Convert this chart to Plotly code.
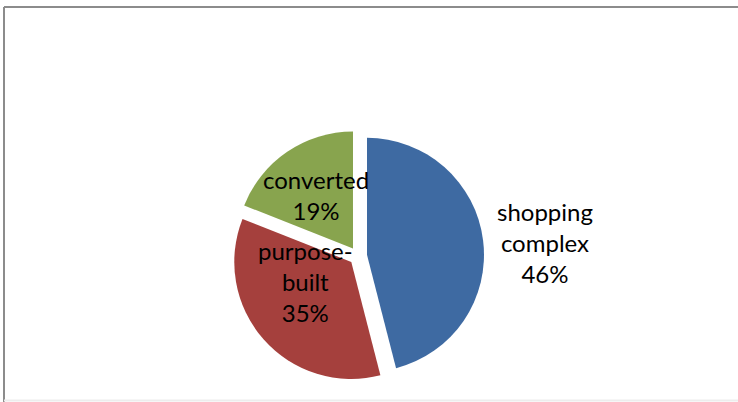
import plotly.graph_objects as go

# Share of venues by building type
categories = ["shopping complex", "purpose-built", "converted"]
label_lines = ["shopping<br>complex", "purpose-<br>built", "converted"]
values = [46, 35, 19]
colors = ["#3E6AA2", "#A5403D", "#88A44E"]

W, H = 738, 402
total = sum(values)
pcts = [round(100 * v / total) for v in values]

fig = go.Figure(
    go.Pie(
        labels=categories,
        values=values,
        sort=False,
        direction="clockwise",
        rotation=0,
        pull=[0.077, 0.077, 0.077],
        marker=dict(colors=colors, line=dict(width=0)),
        textinfo="none",
        hoverinfo="label+percent",
        showlegend=False,
        domain=dict(x=[0.3144, 0.6559], y=[0.0497, 0.6767]),
    )
)

# Data labels (centre positions in pixels from the top-left corner)
label_pos = [(545, 242), (305, 281), (316, 195)]
for text, pct, (px, py) in zip(label_lines, pcts, label_pos):
    fig.add_annotation(
        x=px / W, y=1 - py / H, xref="paper", yref="paper",
        text=f"{text}<br>{pct}%", showarrow=False,
        font=dict(family="Lato", size=24, color="#000000"),
        align="center", xanchor="center", yanchor="middle",
    )

# Chart frame
frame = dict(color="#8C8C8C", width=2)
fig.add_shape(type="line", xref="paper", yref="paper",
              x0=4 / W, x1=4 / W, y0=0, y1=1 - 7 / H, line=frame)
fig.add_shape(type="line", xref="paper", yref="paper",
              x0=4 / W, x1=1, y0=1 - 7 / H, y1=1 - 7 / H, line=frame)
fig.add_shape(type="line", xref="paper", yref="paper",
              x0=4 / W, x1=1, y0=1.5 / H, y1=1.5 / H,
              line=dict(color="#EDEDED", width=2))

fig.update_layout(
    width=W, height=H,
    margin=dict(l=0, r=0, t=0, b=0),
    paper_bgcolor="white", plot_bgcolor="white",
)

fig.write_html("out.html")
